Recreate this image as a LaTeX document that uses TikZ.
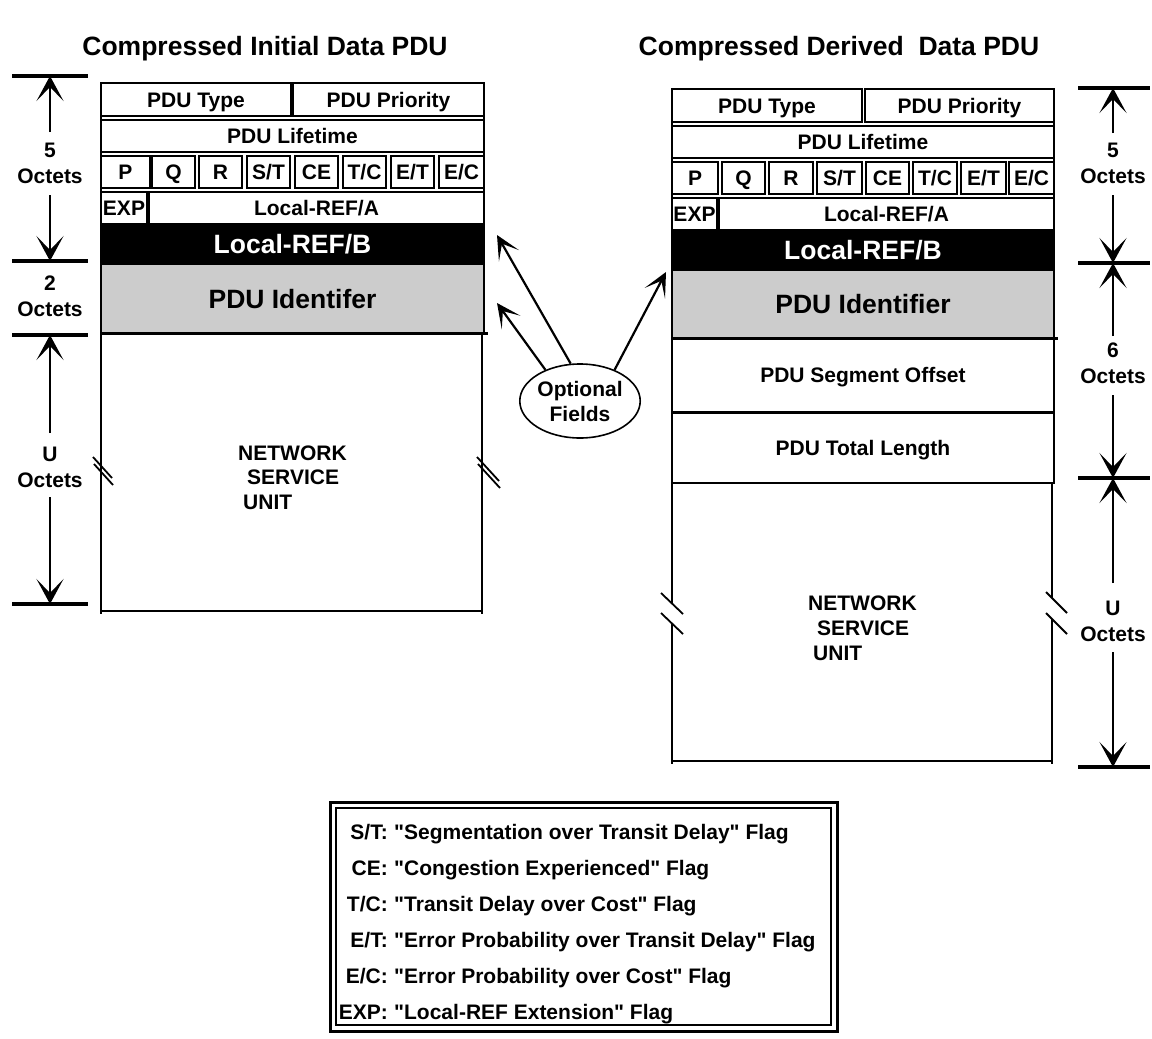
\documentclass[tikz,border=0pt]{standalone}
\usepackage{fontspec}
\setmainfont{Liberation Sans}
\usetikzlibrary{arrows.meta,shapes.geometric}
\newcommand\pducell[7][]{\node[cell,#1,minimum width={#5-#3},minimum height={#6-#4}] (#2) at ({(#3+#5)/2},{(#4+#6)/2}) {#7};}
\newcommand\qd{\textquotedbl}
\begin{document}
\begin{tikzpicture}[x=1pt,y=-1pt,
  font=\bfseries\fontsize{21}{25}\selectfont,
  cell/.style={draw,line width=1.6pt,inner sep=0pt,text height=15pt,text depth=0pt},
  bigtxt/.style={font=\bfseries\fontsize{26.5}{30}\selectfont,text height=19pt,text depth=0pt},
  blackcell/.style={fill=black,text=white,bigtxt},
  graycell/.style={fill=black!20,bigtxt},
  edge/.style={line width=2pt},
  thick line/.style={line width=3pt},
  bar/.style={line width=4.5pt},
  dimarrow/.style={line width=2pt,-{Stealth[length=25pt,width=27pt,inset=14pt]}},
  optarrow/.style={line width=2.2pt,-{Stealth[length=24pt,width=23pt,inset=14pt]}},
  brk/.style={line width=1.8pt},
  lbl/.style={align=center,inner sep=0pt,font=\bfseries\fontsize{21}{26}\selectfont},
  key/.style={anchor=base east,inner sep=0pt},
  desc/.style={anchor=base west,inner sep=0pt}]
\useasboundingbox (0,0) rectangle (1152,1039);
\fill[white] (0,0) rectangle (1152,1039);

% titles
\node[bigtxt] (t1title) at (265,46) {Compressed Initial Data PDU};
\node[bigtxt] (t2title) at (839,46) {Compressed Derived\ \ Data PDU};

% ---------------- left PDU ----------------
\pducell{lType}{101}{83}{291}{116}{PDU Type}
\pducell{lPrio}{293}{83}{484}{116}{PDU Priority}
\pducell{lLife}{101}{120}{484}{152}{PDU Lifetime}
\pducell{lP}{101}{156}{150}{188}{P}
\pducell{lQ}{152}{156}{195}{188}{Q}
\pducell{lR}{199}{156}{242}{188}{R}
\pducell{lST}{247}{156}{290}{188}{S/T}
\pducell{lCE}{295}{156}{338}{188}{CE}
\pducell{lTC}{343}{156}{386}{188}{T/C}
\pducell{lET}{391}{156}{434}{188}{E/T}
\pducell{lEC}{439}{156}{484}{188}{E/C}
\pducell{lEXP}{101}{192}{147}{224}{EXP}
\pducell{lLocA}{149}{192}{484}{224}{Local-REF/A}
\pducell[blackcell]{lLocB}{101}{224}{484}{264}{Local-REF/B}
\pducell[graycell]{lId}{101}{264}{484}{333}{PDU Identifer}
\draw[edge] (101,83) -- (101,333);
\draw[edge] (484,83) -- (484,333);
\draw[thick line] (101,333) -- (488,333);
% network service unit
\draw[edge] (101,333) -- (101,614);
\draw[edge] (482,333) -- (482,614);
\draw[edge] (101,611) -- (482,611);
\draw[brk] (93,457) -- (112,478);
\draw[brk] (94,464) -- (113,485);
\draw[brk] (477,457) -- (499,481);
\draw[brk] (478,464) -- (500,488);
\node[anchor=west,inner sep=0pt] (lNet) at (238,453) {NETWORK};
\node[anchor=west,inner sep=0pt] (lSer) at (247,477) {SERVICE};
\node[anchor=west,inner sep=0pt] (lUni) at (243,502) {UNIT};

% left dimensions
\coordinate (lb1) at (50,76);
\coordinate (lb2) at (50,261);
\coordinate (lb3) at (50,335);
\coordinate (lb4) at (50,604);
\draw[bar] (12,76) -- (88,76);
\draw[bar] (12,261) -- (88,261);
\draw[bar] (12,335) -- (88,335);
\draw[bar] (12,604) -- (88,604);
\node[lbl] (l5) at (50,163) {5\\Octets};
\node[lbl] (l2) at (50,296) {2\\Octets};
\node[lbl] (lU) at (50,467) {U\\Octets};
\coordinate (l5a) at (50,132);
\coordinate (l5b) at (50,195);
\coordinate (lUa) at (50,433);
\coordinate (lUb) at (50,497);
\draw[dimarrow] (l5a) -- (lb1);
\draw[dimarrow] (l5b) -- (lb2);
\draw[dimarrow] (lUa) -- (lb3);
\draw[dimarrow] (lUb) -- (lb4);

% ---------------- right PDU ----------------
\pducell{rType}{672}{89}{862}{122}{PDU Type}
\pducell{rPrio}{865}{89}{1054}{122}{PDU Priority}
\pducell{rLife}{672}{126}{1054}{158}{PDU Lifetime}
\pducell{rP}{672}{162}{718}{194}{P}
\pducell{rQ}{722}{162}{765}{194}{Q}
\pducell{rR}{769}{162}{813}{194}{R}
\pducell{rST}{817}{162}{862}{194}{S/T}
\pducell{rCE}{866}{162}{909}{194}{CE}
\pducell{rTC}{913}{162}{957}{194}{T/C}
\pducell{rET}{961}{162}{1006}{194}{E/T}
\pducell{rEC}{1009}{162}{1054}{194}{E/C}
\pducell{rEXP}{672}{198}{717}{230}{EXP}
\pducell{rLocA}{719}{198}{1054}{230}{Local-REF/A}
\pducell[blackcell]{rLocB}{672}{230}{1054}{270}{Local-REF/B}
\pducell[graycell]{rId}{672}{270}{1054}{338}{PDU Identifier}
\pducell{rSeg}{672}{338}{1054}{412}{PDU Segment Offset}
\pducell{rLen}{672}{412}{1054}{483}{PDU Total Length}
\draw[edge] (672,89) -- (672,483);
\draw[edge] (1054,89) -- (1054,483);
\draw[thick line] (672,338) -- (1058,338);
\draw[thick line] (672,412) -- (1054,412);
% network service unit
\draw[edge] (672,483) -- (672,603.5);
\draw[edge] (672,623.5) -- (672,764);
\draw[edge] (1052,483) -- (1052,598);
\draw[edge] (1052,619) -- (1052,764);
\draw[edge] (672,761) -- (1052,761);
\draw[brk] (661,593) -- (683,614);
\draw[brk] (661,613) -- (683,634);
\draw[brk] (1046,592) -- (1067,613);
\draw[brk] (1046,613) -- (1067,634);
\node[anchor=west,inner sep=0pt] (rNet) at (808,603) {NETWORK};
\node[anchor=west,inner sep=0pt] (rSer) at (817,628) {SERVICE};
\node[anchor=west,inner sep=0pt] (rUni) at (813,653) {UNIT};

% right dimensions
\coordinate (rb1) at (1113,88);
\coordinate (rb2) at (1113,263);
\coordinate (rb3) at (1113,478);
\coordinate (rb4) at (1113,767);
\draw[bar] (1078,88) -- (1150,88);
\draw[bar] (1078,263) -- (1150,263);
\draw[bar] (1078,478) -- (1150,478);
\draw[bar] (1078,767) -- (1150,767);
\node[lbl] (r5) at (1113,163) {5\\Octets};
\node[lbl] (r6) at (1113,363) {6\\Octets};
\node[lbl] (rU) at (1113,621) {U\\Octets};
\coordinate (r5a) at (1113,133);
\coordinate (r5b) at (1113,195);
\coordinate (r6a) at (1113,336);
\coordinate (r6b) at (1113,395);
\coordinate (rUa) at (1113,583);
\coordinate (rUb) at (1113,652);
\draw[dimarrow] (r5a) -- (rb1);
\draw[dimarrow] (r5b) -- (rb2);
\draw[dimarrow] (r6a) -- (rb2);
\draw[dimarrow] (r6b) -- (rb3);
\draw[dimarrow] (rUa) -- (rb3);
\draw[dimarrow] (rUb) -- (rb4);

% ---------------- optional fields ----------------
\node[draw,ellipse,line width=1.6pt,minimum width=116pt,minimum height=74pt,inner sep=0pt,
  align=center,font=\bfseries\fontsize{21}{25}\selectfont] (opt) at (580,401) {Optional\\Fields};
\coordinate (tgA) at (497,303);
\coordinate (tgB) at (497,235);
\coordinate (tgC) at (666,272);
\draw[optarrow] (opt.138) -- (tgA);
\draw[optarrow] (opt.104) -- (tgB);
\draw[optarrow] (opt.42) -- (tgC);

% ---------------- legend ----------------
\node[draw,line width=3pt,minimum width=507pt,minimum height=229pt,inner sep=0pt] (legOut) at (583.5,916.5) {};
\node[draw,line width=1.5pt,minimum width=495pt,minimum height=217pt,inner sep=0pt] (legIn) at (583.5,916.5) {};
\node[key] (kST) at (388,839.5) {S/T:};
\node[key] (kCE) at (388,875.5) {CE:};
\node[key] (kTC) at (388,911.5) {T/C:};
\node[key] (kET) at (388,947.5) {E/T:};
\node[key] (kEC) at (388,983.5) {E/C:};
\node[key] (kEXP) at (388,1019.5) {EXP:};
\node[desc] (dST) at (394,839.5) {\qd Segmentation over Transit Delay\qd{} Flag};
\node[desc] (dCE) at (394,875.5) {\qd Congestion Experienced\qd{} Flag};
\node[desc] (dTC) at (394,911.5) {\qd Transit Delay over Cost\qd{} Flag};
\node[desc] (dET) at (394,947.5) {\qd Error Probability over Transit Delay\qd{} Flag};
\node[desc] (dEC) at (394,983.5) {\qd Error Probability over Cost\qd{} Flag};
\node[desc] (dEXP) at (394,1019.5) {\qd Local-REF Extension\qd{} Flag};
\end{tikzpicture}
\end{document}
